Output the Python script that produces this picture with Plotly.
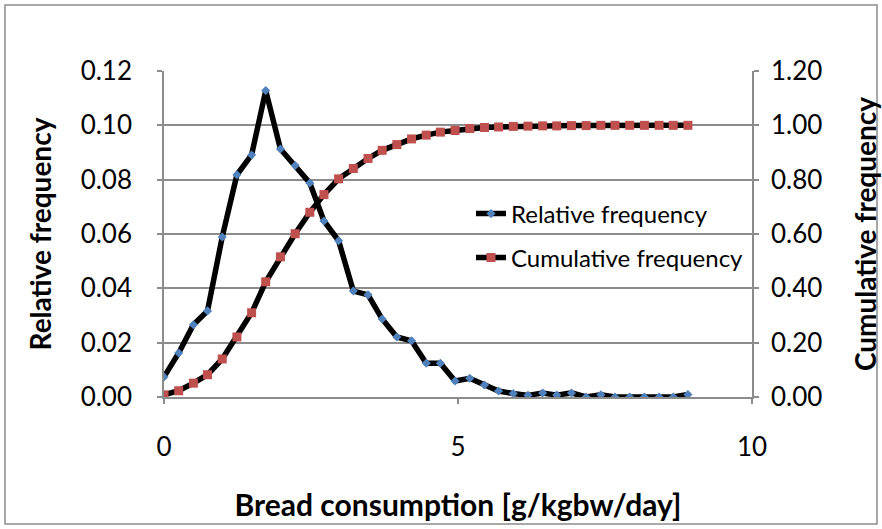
import plotly.graph_objects as go

# Bread consumption bins [g/kgbw/day]
consumption = [0.00, 0.25, 0.50, 0.74, 0.99, 1.24, 1.49, 1.73, 1.98, 2.23,
               2.48, 2.72, 2.97, 3.22, 3.47, 3.71, 3.96, 4.21, 4.46, 4.70,
               4.95, 5.20, 5.45, 5.69, 5.94, 6.19, 6.44, 6.68, 6.93, 7.18,
               7.43, 7.67, 7.92, 8.17, 8.42, 8.66, 8.91]

relative_frequency = [0.0074, 0.0162, 0.0266, 0.0317, 0.0589, 0.0818, 0.0891, 0.1128,
                      0.0913, 0.0852, 0.0788, 0.0648, 0.0575, 0.0390, 0.0376, 0.0287,
                      0.0221, 0.0207, 0.0124, 0.0124, 0.0059, 0.0069, 0.0044, 0.0022,
                      0.0013, 0.0006, 0.0015, 0.0007, 0.0015, 0.0000, 0.0008, 0.0000,
                      0.0000, 0.0000, 0.0000, 0.0000, 0.0009]

cumulative_frequency = [0.008, 0.023, 0.051, 0.082, 0.140, 0.221, 0.310, 0.424,
                        0.516, 0.601, 0.680, 0.745, 0.803, 0.841, 0.878, 0.908,
                        0.929, 0.950, 0.964, 0.975, 0.981, 0.988, 0.992, 0.994,
                        0.996, 0.997, 0.998, 0.998, 0.999, 0.999, 1.000, 1.000,
                        1.000, 1.000, 1.000, 1.000, 1.000]

left_ticks = [0.00, 0.02, 0.04, 0.06, 0.08, 0.10, 0.12]
right_ticks = [0.00, 0.20, 0.40, 0.60, 0.80, 1.00, 1.20]
x_ticks = [0, 5, 10]

FONT = "Lato, Calibri, Carlito, sans-serif"
GRID = "#8c8c8c"

W, H = 882, 529
# plot area in page pixels
P_L, P_R, P_T, P_B = 164, 752, 71, 397
ML, MT = P_L, P_T
MR, MB = W - P_R, H - P_B
PW, PH = P_R - P_L, P_B - P_T

def px_x(p):
    return (p - P_L) / PW

def px_y(p):
    return (P_B - p) / PH

fig = go.Figure()
fig.add_trace(go.Scatter(
    x=consumption, y=relative_frequency, name="Relative frequency",
    mode="lines+markers",
    line=dict(color="black", width=5.5),
    marker=dict(symbol="diamond", size=7, color="#4F81BD"),
    legend="legend",
))
fig.add_trace(go.Scatter(
    x=consumption, y=cumulative_frequency, name="Cumulative frequency",
    mode="lines+markers", yaxis="y2",
    line=dict(color="black", width=5.5),
    marker=dict(symbol="square", size=9, color="#C0504D"),
    legend="legend2",
))

fig.update_layout(
    width=W, height=H,
    margin=dict(l=ML, r=MR, t=MT, b=MB, autoexpand=False),
    paper_bgcolor="white", plot_bgcolor="white",
    font=dict(family=FONT, color="black"),
    xaxis=dict(
        range=[0, 10], tickvals=x_ticks, showgrid=False, zeroline=False,
        showline=True, linecolor=GRID, linewidth=1.5, automargin=False,
        ticks="outside", ticklen=5, tickcolor=GRID, tickwidth=1.5,
        tickfont=dict(size=26), ticklabelstandoff=21,
        title=dict(text="<b>Bread consumption [g/kgbw/day]</b>",
                   font=dict(size=30), standoff=34),
    ),
    yaxis=dict(
        range=[0, 0.12], tickvals=left_ticks, tickformat=".2f",
        showgrid=True, gridcolor=GRID, gridwidth=1.5, zeroline=False,
        showline=True, linecolor=GRID, linewidth=1.5, automargin=False,
        ticks="outside", ticklen=5, tickcolor=GRID, tickwidth=1.5,
        tickfont=dict(size=26), ticklabelstandoff=20,
        title=dict(text="<b>Relative frequency</b>", font=dict(size=28), standoff=21),
    ),
    yaxis2=dict(
        range=[0, 1.2], tickvals=right_ticks, tickformat=".2f",
        overlaying="y", side="right", showgrid=False, zeroline=False,
        showline=True, linecolor=GRID, linewidth=1.5, automargin=False,
        ticks="outside", ticklen=5, tickcolor=GRID, tickwidth=1.5,
        tickfont=dict(size=26), ticklabelstandoff=7,
        title=dict(text="<b>Cumulative frequency</b>", font=dict(size=28), standoff=36),
    ),
    legend=dict(x=px_x(471), y=px_y(214), xanchor="left", yanchor="middle",
                bgcolor="rgba(0,0,0,0)", font=dict(size=24)),
    legend2=dict(x=px_x(471), y=px_y(258), xanchor="left", yanchor="middle",
                 bgcolor="rgba(0,0,0,0)", font=dict(size=24)),
    showlegend=True,
    shapes=[dict(type="rect", xref="paper", yref="paper",
                 x0=px_x(5), x1=px_x(877), y0=px_y(524), y1=px_y(5),
                 line=dict(color="#8c8c8c", width=1.5), layer="below")],
)

fig.write_html(
    "out.html",
    config={"displayModeBar": False},
    post_script="document.body.style.margin='0';document.body.style.overflow='hidden';",
)
